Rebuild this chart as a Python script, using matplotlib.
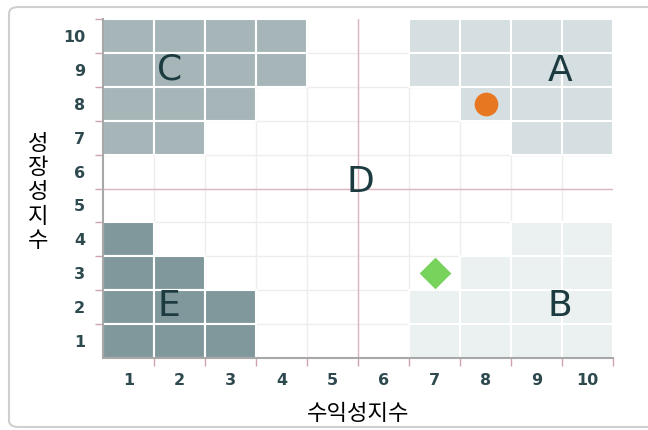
import matplotlib.pyplot as plt
from matplotlib.patches import Rectangle, FancyBboxPatch

plt.rcParams['font.family'] = ['Noto Sans CJK KR', 'DejaVu Sans']

# zone map, top row is y=10, columns x=1..10
grid = [
    "CCCC..AAAA",
    "CCCC..AAAA",
    "CCC....AAA",
    "CC......AA",
    "..........",
    "..........",
    "E.......BB",
    "EE.....BBB",
    "EEE...BBBB",
    "EEE...BBBB",
]
zone_colors = {'A': '#d5dee0', 'B': '#ebf0f0', 'C': '#a6b5b7', 'E': '#80989c'}
zone_names = ['A', 'B', 'C', 'D', 'E']
zone_x = [9.46, 9.46, 1.8, 5.55, 1.8]
zone_y = [8.97, 2.02, 9.02, 5.68, 2.03]
ticks = list(range(1, 11))
x_title = '수익성지수'
y_title = '성장성지수'
circle_pt = (8, 8)
diamond_pt = (7, 3)

fig = plt.figure(figsize=(6.48, 4.30), dpi=100)
fig.patches.append(FancyBboxPatch((9 / 648, 3 / 430), 700 / 648, 420 / 430,
                                  boxstyle='round,pad=0,rounding_size=0.015',
                                  transform=fig.transFigure, fc='none', ec='#cfcfcf',
                                  lw=1.5, zorder=-1))
ax = fig.add_axes([103 / 648, 72 / 430, 510 / 648, 339 / 430])
ax.set_xlim(0.5, 10.5)
ax.set_ylim(0.5, 10.5)

for b in [i + 0.5 for i in range(1, 10)]:
    ax.axvline(b, color='#f1ecec', lw=1, zorder=0)
    ax.axhline(b, color='#f1ecec', lw=1, zorder=0)

for r, row in enumerate(grid):
    y = 10 - r
    for c, ch in enumerate(row):
        if ch in zone_colors:
            ax.add_patch(Rectangle((c + 0.5, y - 0.5), 1, 1, fc=zone_colors[ch],
                                   ec='white', lw=1.5, zorder=1))

ax.axvline(5.5, color='#dbb8c0', lw=1, zorder=2)
ax.axhline(5.5, color='#dbb8c0', lw=1, zorder=2)

for n, x, y in zip(zone_names, zone_x, zone_y):
    ax.text(x, y, n, ha='center', va='center', fontsize=26, color='#1b3b40',
            family='DejaVu Sans', zorder=4)

ax.scatter([circle_pt[0]], [circle_pt[1]], s=290, color='#e87722', zorder=5, linewidths=0)
ax.scatter([diamond_pt[0]], [diamond_pt[1]], s=260, marker='D', color='#78d35c', zorder=5,
           linewidths=0)

ax.set_xticks(ticks)
ax.set_yticks(ticks)
ax.set_xticklabels([str(t) for t in ticks], family='DejaVu Sans', fontsize=11.5,
                   color='#2e4a4f', fontweight='bold')
ax.set_yticklabels([str(t) for t in ticks], family='DejaVu Sans', fontsize=11.5,
                   color='#2e4a4f', fontweight='bold')
ax.tick_params(axis='y', length=0, pad=13)
ax.tick_params(axis='x', length=0, pad=11)
ax.set_xticks([i + 0.5 for i in range(1, 11)], minor=True)
ax.set_yticks([i + 0.5 for i in range(1, 11)], minor=True)
ax.tick_params(which='minor', length=6, width=1, color='#cfa3ad', direction='out')

for s in ['top', 'right']:
    ax.spines[s].set_visible(False)
for s in ['left', 'bottom']:
    ax.spines[s].set_color('#a8a8a8')
    ax.spines[s].set_linewidth(1.5)

ax.set_xlabel(x_title, fontsize=16, labelpad=10)
fig.text(38 / 648, 1 - 192 / 430, '\n'.join(y_title), ha='center', va='center',
         fontsize=16, linespacing=1.08)

fig.savefig('out.png', dpi=100)
